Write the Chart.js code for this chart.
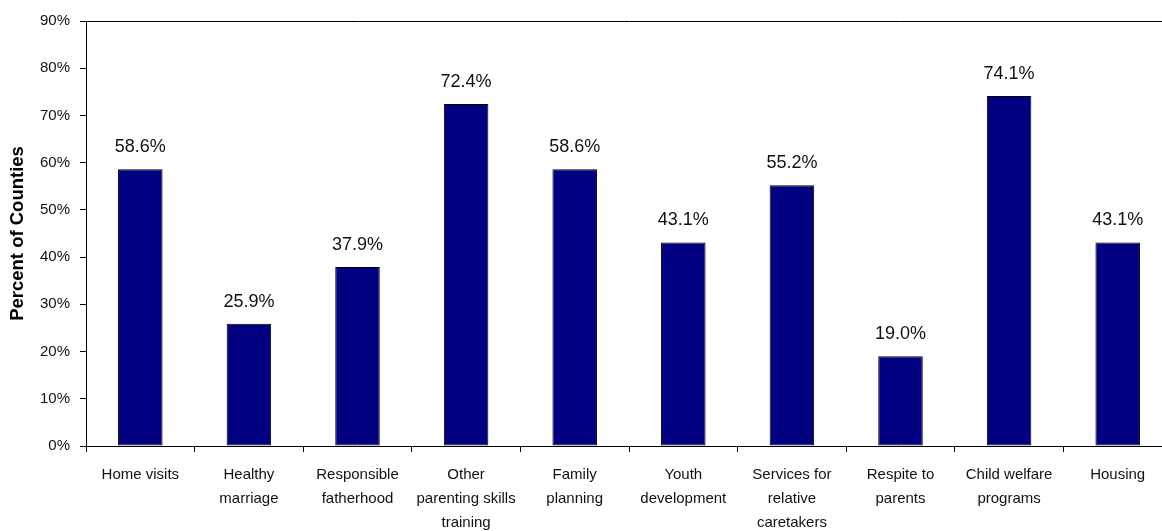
<!DOCTYPE html>
<html>
<head>
<meta charset="utf-8">
<title>Percent of Counties by Service</title>
<script src="https://cdn.jsdelivr.net/npm/chart.js@4/dist/chart.umd.min.js"></script>
<style>
  html, body { margin: 0; padding: 0; background: #fff; overflow: hidden; }
  #wrap { width: 1180px; height: 531px; }
</style>
</head>
<body>
<div id="wrap"><canvas id="chart" width="1180" height="531"></canvas></div>
<script>
// Service categories (multi-line tick labels)
const categories = [
  ['Home visits'],
  ['Healthy', 'marriage'],
  ['Responsible', 'fatherhood'],
  ['Other', 'parenting skills', 'training'],
  ['Family', 'planning'],
  ['Youth', 'development'],
  ['Services for', 'relative', 'caretakers'],
  ['Respite to', 'parents'],
  ['Child welfare', 'programs'],
  ['Housing']
];

// Percent of counties offering each service
const percentValues = [58.6, 25.9, 37.9, 72.4, 58.6, 43.1, 55.2, 19.0, 74.1, 43.1];

// Y axis tick values (percent)
const yTicks = [0, 10, 20, 30, 40, 50, 60, 70, 80, 90];

const FONT = "'Liberation Sans', Arial, Helvetica, sans-serif";

// Writes the value above each bar, positioned from the bar element itself
const valueLabels = {
  id: 'valueLabels',
  afterDatasetsDraw(chart) {
    const ctx = chart.ctx;
    const meta = chart.getDatasetMeta(0);
    ctx.save();
    ctx.font = '18px ' + FONT;
    ctx.fillStyle = '#111';
    ctx.textAlign = 'center';
    ctx.textBaseline = 'middle';
    meta.data.forEach((bar, i) => {
      const v = chart.data.datasets[0].data[i];
      ctx.fillText(v.toFixed(1) + '%', bar.x, bar.y - 22);
    });
    ctx.restore();
  }
};

new Chart(document.getElementById('chart'), {
  type: 'bar',
  data: {
    labels: categories,
    datasets: [{
      data: percentValues,
      backgroundColor: '#000080',
      borderColor: '#000000',
      borderWidth: 1,
      borderSkipped: false,
      barPercentage: 0.41,
      categoryPercentage: 1.0
    }]
  },
  options: {
    responsive: false,
    animation: false,
    devicePixelRatio: 1,
    layout: { padding: { left: 0, top: 21, right: 8, bottom: 0 } },
    plugins: {
      legend: { display: false },
      tooltip: { enabled: false }
    },
    scales: {
      x: {
        afterFit(scale) { scale.height = 85; },
        grid: {
          display: true,
          offset: true,
          drawOnChartArea: false,
          drawTicks: true,
          tickLength: 6,
          tickColor: '#000',
          color: '#000'
        },
        border: { display: true, color: '#000', width: 1 },
        ticks: {
          color: '#111',
          padding: 11,
          maxRotation: 0,
          autoSkip: false,
          font: { family: FONT, size: 15, lineHeight: 1.6 }
        }
      },
      y: {
        min: 0,
        max: 90,
        afterFit(scale) { scale.width = 86; },
        afterBuildTicks(scale) { scale.ticks = yTicks.map(v => ({ value: v })); },
        grid: {
          display: true,
          drawOnChartArea: true,
          drawTicks: true,
          tickLength: 6,
          tickColor: '#000',
          color: ctx => (ctx.tick && ctx.tick.value === 90 ? '#000' : 'rgba(0,0,0,0)')
        },
        border: { display: true, color: '#000', width: 1 },
        ticks: {
          color: '#111',
          padding: 10,
          font: { family: FONT, size: 15 },
          callback: v => v + '%'
        },
        title: {
          display: true,
          text: 'Percent of Counties',
          color: '#000',
          padding: { top: 7, bottom: 0 },
          font: { family: FONT, size: 18.5, weight: 'bold' }
        }
      }
    }
  },
  plugins: [valueLabels]
});
</script>
</body>
</html>
